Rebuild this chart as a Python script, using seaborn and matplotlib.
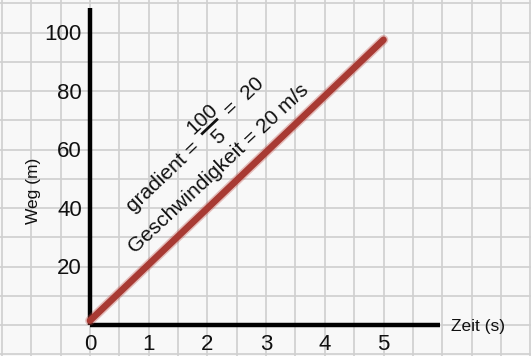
import matplotlib
matplotlib.use("Agg")
import matplotlib.pyplot as plt
from matplotlib.transforms import offset_copy
import seaborn as sns
import numpy as np
import pandas as pd

# Data
zeit = [0, 5]            # s
weg = [1.5, 97.5]        # m
x_ticks = [0, 1, 2, 3, 4, 5]
y_ticks = [20, 40, 60, 80, 100]
x_label = "Zeit (s)"
y_label = "Weg (m)"
grad_prefix = "gradient ="
grad_num = "100"
grad_den = "5"
grad_suffix = "=  20"
text_speed = "Geschwindigkeit = 20 m/s"

sns.set_theme(style="white")
plt.rcParams["font.family"] = ["Liberation Sans", "DejaVu Sans"]

fig = plt.figure(figsize=(5.31, 3.56), dpi=100)
ax = fig.add_axes([0, 0, 1, 1])
ax.set_facecolor("#f8f8f8")

# pixel mapping: x=0 at 90px, 1 unit = 58.7px ; y=0 at 325px from top, 20 units = 58.5px
x0_px, xu = 90.0, 58.7
y0_px, yu = 325.0, 58.5 / 20
W, H = 531, 356
ax.set_xlim(-x0_px / xu, (W - x0_px) / xu)
ax.set_ylim(-(H - y0_px) / yu, y0_px / yu)

# graph paper grid
ax.set_xticks(np.arange(-1.5, 7.6, 0.5))
ax.set_yticks(np.arange(-10, 111, 10))
ax.tick_params(length=0, labelbottom=False, labelleft=False)
ax.grid(True, color="#cfcfcf", linewidth=1.2)
for s in ax.spines.values():
    s.set_visible(False)

# axes lines
ax.plot([0, 0], [0, 108.4], color="black", lw=3.2, solid_capstyle="butt", zorder=3)
ax.plot([0, 5.96], [0, 0], color="black", lw=3.2, solid_capstyle="butt", zorder=3)

# data line
df = pd.DataFrame({"Zeit": zeit, "Weg": weg})
sns.lineplot(data=df, x="Zeit", y="Weg", ax=ax, color="#c0504a", lw=7,
             alpha=0.35, solid_capstyle="round", zorder=4)
sns.lineplot(data=df, x="Zeit", y="Weg", ax=ax, color="#a83a33", lw=4.8,
             solid_capstyle="round", zorder=5)
ax.set_xlabel("")
ax.set_ylabel("")

# tick labels
for t in x_ticks:
    ax.text(t, -8.6, str(t), ha="center", va="baseline", fontsize=16, color="#111111")
for t in y_ticks:
    ax.text(-0.14, t - 2.6, str(t), ha="right", va="baseline", fontsize=16, color="#111111")

# axis labels
ax.text(6.15, -0.5, x_label, ha="left", va="center", fontsize=12.5, color="#111111")
ax.text(-0.97, 45.8, y_label, ha="center", va="center", rotation=90, fontsize=12.5, color="#111111")

# gradient annotation built in a rotated frame (offsets in pixels)
ang = 43.5
ca, sa = np.cos(np.radians(ang)), np.sin(np.radians(ang))
Ox, Oy = 1.738, 60.5  # centre of first "=" sign
fs = 15


def rot_off(s, t):
    return offset_copy(ax.transData, fig=fig, x=s * ca - t * sa, y=s * sa + t * ca, units="dots")


def rot_text(s, t, txt, ha):
    ax.text(Ox, Oy, txt, transform=rot_off(s, t), rotation=ang, rotation_mode="anchor",
            ha=ha, va="baseline", fontsize=fs, color="#111111", zorder=6)


rot_text(6, -7, grad_prefix, "right")
rot_text(28, 16 - 7.5, grad_num, "center")
rot_text(27, -8 - 7.5, grad_den, "center")
rot_text(50, 3 - 7, grad_suffix, "left")

# fraction bar
bar_s0, bar_s1, bar_t = 16, 39, 3.5
p0 = ax.transData.transform((Ox, Oy))
inv = ax.transData.inverted()
d0 = inv.transform((p0[0] + bar_s0 * ca - bar_t * sa, p0[1] + bar_s0 * sa + bar_t * ca))
d1 = inv.transform((p0[0] + bar_s1 * ca - bar_t * sa, p0[1] + bar_s1 * sa + bar_t * ca))
ax.plot([d0[0], d1[0]], [d0[1], d1[1]], color="#111111", lw=2.0,
        solid_capstyle="butt", zorder=6)

ax.text(2.2, 53.3, text_speed, ha="center", va="center", rotation=43,
        fontsize=15, color="#111111", zorder=6)

fig.savefig("out.png", dpi=100)
